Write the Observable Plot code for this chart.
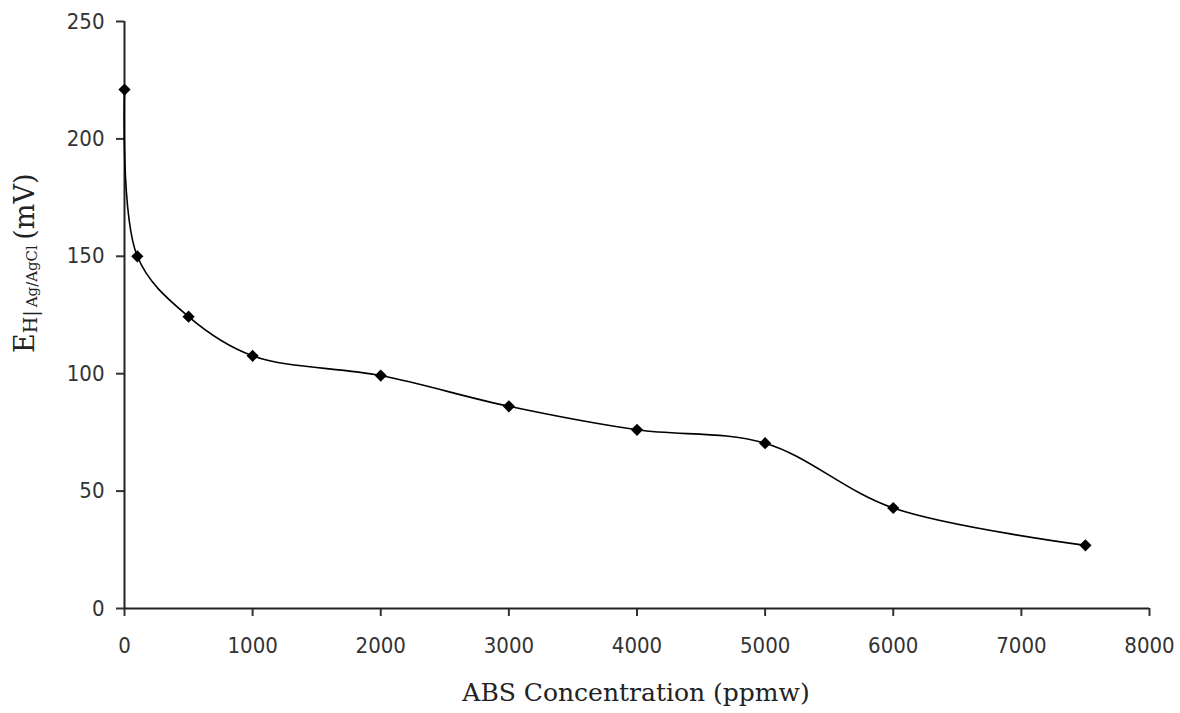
<!DOCTYPE html>
<html>
<head>
<meta charset="utf-8">
<script src="https://cdn.jsdelivr.net/npm/d3@7"></script>
<script src="https://cdn.jsdelivr.net/npm/@observablehq/plot@0.6"></script>
<style>
  html, body { margin: 0; padding: 0; background: #fff; }
  #chart svg { display: block; }
</style>
</head>
<body>
<div id="chart"></div>
<script>
// ABS concentration (ppmw) and measured potential E_H vs Ag/AgCl (mV)
const concentration = [0, 100, 500, 1000, 2000, 3000, 4000, 5000, 6000, 7500];
const potential = [221, 150, 124.3, 107.6, 99.2, 86.1, 76.1, 70.4, 42.8, 26.9];
const xTicks = [0, 1000, 2000, 3000, 4000, 5000, 6000, 7000, 8000];
const yTicks = [0, 50, 100, 150, 200, 250];
const xLabel = "ABS Concentration (ppmw)";

const data = concentration.map((c, i) => ({c, e: potential[i]}));

const tickFont = "'DejaVu Sans Condensed', 'DejaVu Sans', sans-serif";
const titleFont = "'DejaVu Serif', serif";

const plot = Plot.plot({
  width: 1180,
  height: 713,
  marginLeft: 124,
  marginRight: 31,
  marginTop: 21,
  marginBottom: 105,
  style: {fontFamily: tickFont, fontSize: "22px", color: "#333", background: "#fff"},
  x: {domain: [0, 8000], ticks: xTicks, label: null},
  y: {domain: [0, 250], ticks: yTicks, label: null},
  marks: [
    Plot.axisX({ticks: xTicks, tickSize: 8, tickPadding: 21, tickFormat: d => String(d), strokeWidth: 2, fill: "#333", fontSize: 22}),
    Plot.axisY({ticks: yTicks, tickSize: 8, tickPadding: 12, tickFormat: d => String(d), strokeWidth: 2, fill: "#333", fontSize: 22}),
    Plot.ruleY([0], {stroke: "#222", strokeWidth: 2}),
    Plot.ruleX([0], {stroke: "#222", strokeWidth: 2}),
    Plot.line(data, {x: "c", y: "e", curve: "catmull-rom", stroke: "#000", strokeWidth: 1.6}),
    Plot.dot(data, {x: "c", y: "e", symbol: "diamond2", r: 5.5, fill: "#000", stroke: "none"})
  ]
});

document.getElementById("chart").appendChild(plot);

const svg = d3.select(plot);

// x axis title
svg.append("text")
  .attr("x", 636)
  .attr("y", 701)
  .attr("text-anchor", "middle")
  .attr("font-family", titleFont)
  .attr("font-size", 25)
  .attr("fill", "#222")
  .text(xLabel);

// y axis title with subscripts: E_{H | Ag/AgCl} (mV)
const yt = svg.append("text")
  .attr("transform", "translate(34,353) rotate(-90)")
  .attr("text-anchor", "start")
  .attr("font-family", titleFont)
  .attr("fill", "#222");
yt.append("tspan").attr("font-size", 27).text("E");
yt.append("tspan").attr("font-size", 19).attr("dy", 3).text("H|");
yt.append("tspan").attr("font-size", 15).text("\u2009Ag/AgCl");
yt.append("tspan").attr("font-size", 27).attr("dy", -3).text("\u2009(mV)");
</script>
</body>
</html>
